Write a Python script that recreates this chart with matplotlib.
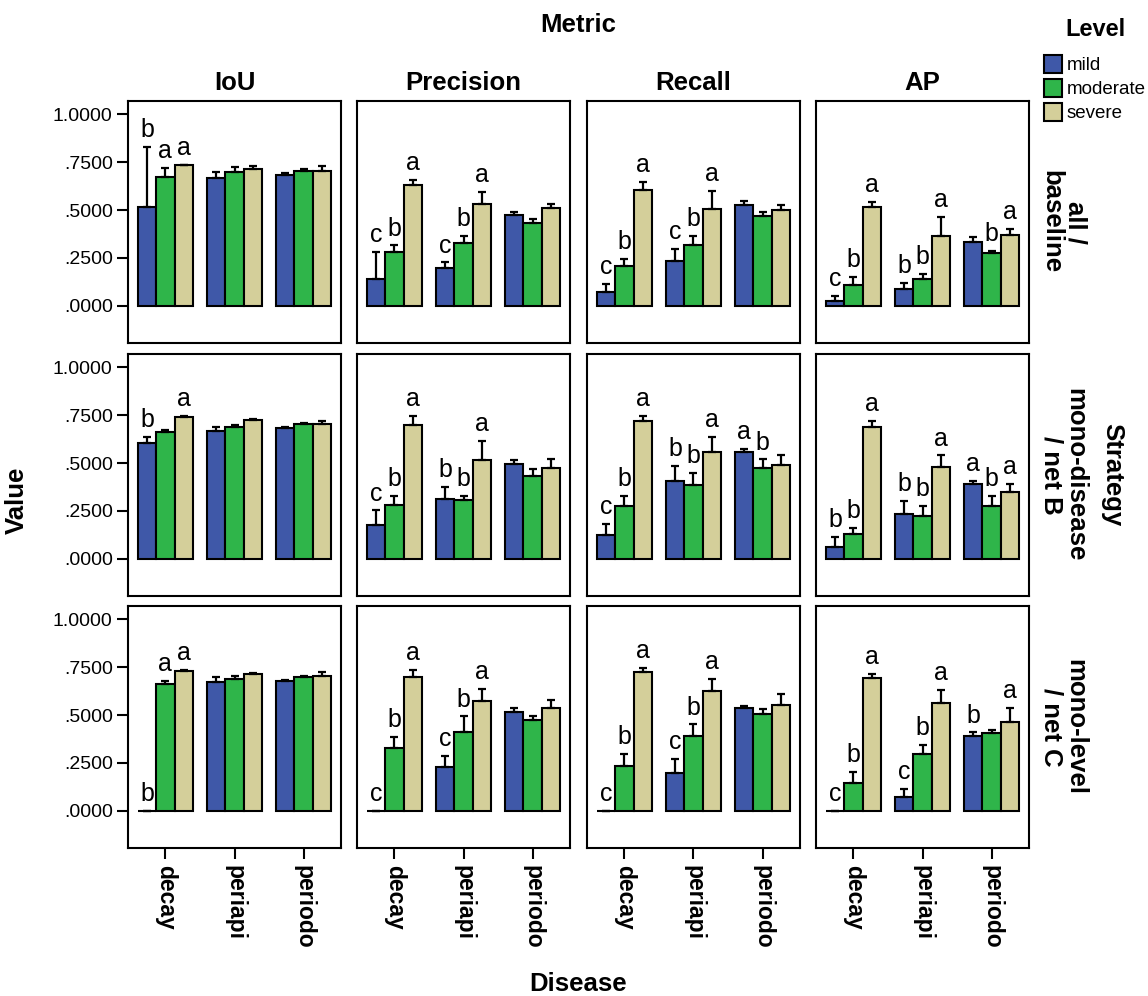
import matplotlib
matplotlib.use("Agg")
import matplotlib.pyplot as plt
from matplotlib.patches import Rectangle
import numpy as np

plt.rcParams['font.family'] = ['Liberation Sans', 'DejaVu Sans']

# ---- categories ----
metrics = ["IoU", "Precision", "Recall", "AP"]
strategies = ["all /\nbaseline", "mono-disease\n/ net B", "mono-level\n/ net C"]
diseases = ["decay", "periapi", "periodo"]
levels = ["mild", "moderate", "severe"]
level_colors = ["#3F58A8", "#2FB54A", "#D4CF9A"]

# ---- strategy: all / baseline  (rows: disease, cols: level) ----
base_iou = [[0.514, 0.673, 0.733], [0.670, 0.699, 0.713], [0.685, 0.705, 0.705]]
base_iou_err = [[0.315, 0.047, 0.005], [0.028, 0.025, 0.016], [0.007, 0.007, 0.024]]
base_iou_sig = [["b", "a", "a"], ["", "", ""], ["", "", ""]]

base_prec = [[0.140, 0.280, 0.633], [0.199, 0.329, 0.530], [0.472, 0.430, 0.509]]
base_prec_err = [[0.143, 0.035, 0.024], [0.027, 0.035, 0.064], [0.019, 0.025, 0.024]]
base_prec_sig = [["c", "b", "a"], ["c", "b", "a"], ["", "", ""]]

base_rec = [[0.070, 0.206, 0.607], [0.234, 0.315, 0.505], [0.526, 0.467, 0.498]]
base_rec_err = [[0.042, 0.039, 0.042], [0.063, 0.050, 0.093], [0.023, 0.021, 0.030]]
base_rec_sig = [["c", "b", "a"], ["c", "b", "a"], ["", "", ""]]

base_ap = [[0.026, 0.108, 0.516], [0.086, 0.140, 0.365], [0.332, 0.276, 0.369]]
base_ap_err = [[0.025, 0.044, 0.028], [0.033, 0.028, 0.097], [0.025, 0.012, 0.033]]
base_ap_sig = [["c", "b", "a"], ["b", "b", "a"], ["", "b", "a"]]

# ---- strategy: mono-disease / net B ----
netb_iou = [[0.603, 0.661, 0.740], [0.670, 0.687, 0.726], [0.685, 0.703, 0.703]]
netb_iou_err = [[0.033, 0.014, 0.008], [0.019, 0.011, 0.003], [0.004, 0.005, 0.016]]
netb_iou_sig = [["b", "", "a"], ["", "", ""], ["", "", ""]]

netb_prec = [[0.178, 0.283, 0.699], [0.311, 0.309, 0.516], [0.493, 0.430, 0.476]]
netb_prec_err = [[0.074, 0.046, 0.049], [0.065, 0.020, 0.100], [0.023, 0.037, 0.045]]
netb_prec_sig = [["c", "b", "a"], ["b", "b", "a"], ["", "", ""]]

netb_rec = [[0.126, 0.274, 0.722], [0.404, 0.386, 0.556], [0.556, 0.472, 0.491]]
netb_rec_err = [[0.054, 0.055, 0.026], [0.080, 0.063, 0.079], [0.017, 0.047, 0.053]]
netb_rec_sig = [["c", "b", "a"], ["b", "b", "a"], ["a", "b", ""]]

netb_ap = [[0.061, 0.128, 0.689], [0.236, 0.224, 0.477], [0.393, 0.273, 0.351]]
netb_ap_err = [[0.053, 0.031, 0.031], [0.065, 0.054, 0.063], [0.014, 0.056, 0.041]]
netb_ap_sig = [["b", "b", "a"], ["b", "b", "a"], ["a", "b", "a"]]

# ---- strategy: mono-level / net C ----
netc_iou = [[0.0, 0.664, 0.731], [0.673, 0.691, 0.713], [0.680, 0.701, 0.705]]
netc_iou_err = [[0.0, 0.016, 0.007], [0.026, 0.012, 0.009], [0.005, 0.005, 0.021]]
netc_iou_sig = [["b", "a", "a"], ["", "", ""], ["", "", ""]]

netc_prec = [[0.0, 0.327, 0.698], [0.227, 0.413, 0.573], [0.516, 0.472, 0.538]]
netc_prec_err = [[0.0, 0.058, 0.036], [0.061, 0.080, 0.062], [0.022, 0.025, 0.039]]
netc_prec_sig = [["c", "b", "a"], ["c", "b", "a"], ["", "", ""]]

netc_rec = [[0.0, 0.234, 0.724], [0.198, 0.390, 0.626], [0.538, 0.505, 0.554]]
netc_rec_err = [[0.0, 0.063, 0.024], [0.073, 0.061, 0.063], [0.011, 0.028, 0.056]]
netc_rec_sig = [["c", "b", "a"], ["c", "b", "a"], ["", "", ""]]

netc_ap = [[0.0, 0.143, 0.692], [0.073, 0.295, 0.565], [0.393, 0.404, 0.463]]
netc_ap_err = [[0.0, 0.060, 0.021], [0.039, 0.049, 0.068], [0.016, 0.019, 0.075]]
netc_ap_sig = [["c", "b", "a"], ["c", "b", "a"], ["b", "", "a"]]

y_ticks = [0.0, 0.25, 0.5, 0.75, 1.0]
y_tick_labels = [".0000", ".2500", ".5000", ".7500", "1.0000"]

panels = [
    [(base_iou, base_iou_err, base_iou_sig), (base_prec, base_prec_err, base_prec_sig),
     (base_rec, base_rec_err, base_rec_sig), (base_ap, base_ap_err, base_ap_sig)],
    [(netb_iou, netb_iou_err, netb_iou_sig), (netb_prec, netb_prec_err, netb_prec_sig),
     (netb_rec, netb_rec_err, netb_rec_sig), (netb_ap, netb_ap_err, netb_ap_sig)],
    [(netc_iou, netc_iou_err, netc_iou_sig), (netc_prec, netc_prec_err, netc_prec_sig),
     (netc_rec, netc_rec_err, netc_rec_sig), (netc_ap, netc_ap_err, netc_ap_sig)],
]

# ---- figure layout (pixel based) ----
W, H = 1148, 996
fig = plt.figure(figsize=(W / 100, H / 100), dpi=100)


def fx(px):
    return px / W


def fy(py):
    return 1 - py / H


col_left = [128, 357, 587, 816]
col_w = 213
row_top = [101, 354, 606]
row_h = 242

bar_w = 0.265
offsets = [-bar_w, 0.0, bar_w]
LW = 1.5
title_fs = 18.5

for r in range(3):
    for c in range(4):
        ax = fig.add_axes([fx(col_left[c]), fy(row_top[r] + row_h), col_w / W, row_h / H])
        means, errs, sigs = panels[r][c]
        means = np.asarray(means)
        errs = np.asarray(errs)
        xg = np.arange(len(diseases))
        for li, lev in enumerate(levels):
            xs = xg + offsets[li]
            ys = means[:, li]
            es = errs[:, li]
            ax.bar(xs, ys, width=bar_w, color=level_colors[li], edgecolor="black",
                   linewidth=LW, zorder=2)
            ax.errorbar(xs, ys, yerr=[np.zeros_like(es), es], fmt="none", ecolor="black",
                        elinewidth=1.6, capsize=3, capthick=1.6, zorder=3)
            for di in range(len(diseases)):
                s = sigs[di][li]
                if s:
                    ax.annotate(s, xy=(xs[di], ys[di] + es[di]), xytext=(0, 3.5),
                                textcoords="offset points", ha="center", va="bottom",
                                fontsize=18, color="black", zorder=4)
        ax.set_xlim(-0.54, 2.54)
        ax.set_ylim(-0.195, 1.07)
        for sp in ax.spines.values():
            sp.set_linewidth(LW)
        ax.tick_params(direction="out", length=8, width=LW, colors="black")
        if c == 0:
            ax.set_yticks(y_ticks)
            ax.set_yticklabels(y_tick_labels, fontsize=14)
            ax.tick_params(axis="y", pad=3)
        else:
            ax.set_yticks([])
        if r == 2:
            ax.set_xticks(xg)
            ax.set_xticklabels(diseases, rotation=-90, fontsize=16.5, fontweight="bold",
                               va="top", ha="center")
            ax.tick_params(axis="x", pad=4)
        else:
            ax.set_xticks([])
        if r == 0:
            ax.set_title(metrics[c], fontsize=title_fs, fontweight="bold", pad=8)

# row (strategy) labels on the right
for r in range(3):
    yc = row_top[r] + row_h / 2
    fig.text(fx(1063), fy(yc), strategies[r], rotation=-90, ha="center", va="center",
             multialignment="center", fontsize=title_fs, fontweight="bold", linespacing=1.0)
fig.text(fx(1112), fy(row_top[1] + row_h / 2), "Strategy", rotation=-90, ha="center",
         va="center", fontsize=title_fs, fontweight="bold")

# outer titles
fig.text(fx(578), fy(25), "Metric", ha="center", va="center", fontsize=title_fs,
         fontweight="bold")
fig.text(fx(578), fy(984), "Disease", ha="center", va="center", fontsize=title_fs,
         fontweight="bold")
fig.text(fx(17), fy(500), "Value", rotation=90, ha="center", va="center",
         fontsize=title_fs, fontweight="bold")

# legend
fig.text(fx(1095), fy(30), "Level", ha="center", va="center", fontsize=17,
         fontweight="bold")
leg_tops = [55, 79, 103]
for li, lev in enumerate(levels):
    y0 = leg_tops[li]
    fig.patches.append(Rectangle((fx(1044), fy(y0 + 18)), 18 / W, 18 / H,
                                 transform=fig.transFigure, facecolor=level_colors[li],
                                 edgecolor="black", linewidth=LW))
    fig.text(fx(1067), fy(y0 + 10), lev, ha="left", va="center", fontsize=13.5)

fig.savefig("out.png", dpi=100)
